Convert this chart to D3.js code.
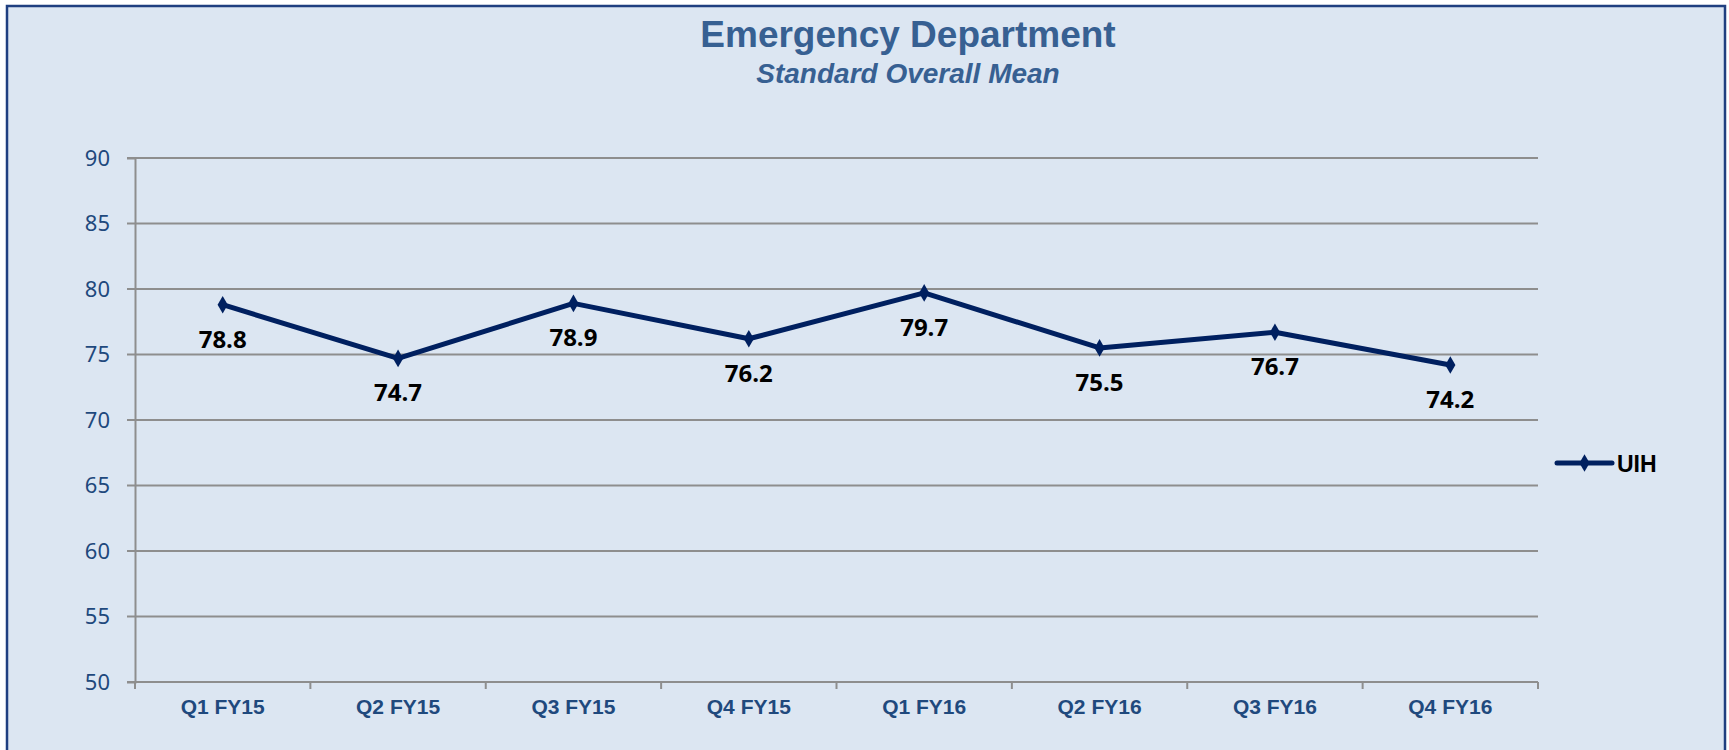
<!DOCTYPE html>
<html>
<head>
<meta charset="utf-8">
<script src="https://cdn.jsdelivr.net/npm/d3@7"></script>
<style>
  body { margin: 0; background: #ffffff; }
</style>
</head>
<body>
<div id="my_dataviz"></div>
<script>

// chart data
var quarters = ["Q1 FY15", "Q2 FY15", "Q3 FY15", "Q4 FY15", "Q1 FY16", "Q2 FY16", "Q3 FY16", "Q4 FY16"];
var uihValues = [78.8, 74.7, 78.9, 76.2, 79.7, 75.5, 76.7, 74.2];
var yTicks = [50, 55, 60, 65, 70, 75, 80, 85, 90];
var seriesName = "UIH";

// set the dimensions and margins of the graph
var W = 1729, H = 750;
var margin = {top: 158, right: 191, bottom: 68, left: 135},
  width = 1538 - margin.left,
  height = 682 - margin.top;

var svg = d3.select("#my_dataviz")
.append("svg")
  .attr("width", W)
  .attr("height", H);

// chart area background and frame
svg.append("rect")
  .attr("x", 7)
  .attr("y", 6)
  .attr("width", 1718)
  .attr("height", 800)
  .style("fill", "#dce6f2")
  .style("stroke", "#1f3f80")
  .style("stroke-width", 2.5);

var g = svg.append("g")
  .attr("transform", "translate(" + margin.left + "," + margin.top + ")");

// scales
var x = d3.scaleBand()
  .range([0, width])
  .domain(quarters);

var y = d3.scaleLinear()
  .range([height, 0])
  .domain([50, 90]);

// horizontal gridlines
g.selectAll(".grid")
  .data(yTicks)
  .enter()
  .append("line")
    .attr("x1", -8)
    .attr("x2", width)
    .attr("y1", function(d) { return y(d) })
    .attr("y2", function(d) { return y(d) })
    .style("stroke", "#8e8e8e")
    .style("stroke-width", 2);

// Y axis
var yAxis = g.append("g")
  .call(d3.axisLeft(y).tickValues(yTicks).tickSize(8).tickPadding(17));
yAxis.select(".domain")
  .style("stroke", "#8e8e8e")
  .style("stroke-width", 2);
yAxis.selectAll(".tick line").remove();
yAxis.selectAll("text")
  .style("font-family", "'Noto Sans', 'Open Sans', sans-serif")
  .style("font-size", "22px")
  .style("fill", "#1f497d");

// X axis
var xTickPos = d3.range(quarters.length + 1).map(function(i) { return i * x.bandwidth() });
g.append("line")
  .attr("x1", 0)
  .attr("x2", width)
  .attr("y1", height)
  .attr("y2", height)
  .style("stroke", "#8e8e8e")
  .style("stroke-width", 2);
g.selectAll(".xtick")
  .data(xTickPos)
  .enter()
  .append("line")
    .attr("x1", function(d) { return d })
    .attr("x2", function(d) { return d })
    .attr("y1", height)
    .attr("y2", height + 7)
    .style("stroke", "#8e8e8e")
    .style("stroke-width", 2);
g.selectAll(".xlabel")
  .data(quarters)
  .enter()
  .append("text")
    .attr("x", function(d) { return x(d) + x.bandwidth() / 2 })
    .attr("y", height + 32)
    .attr("text-anchor", "middle")
    .style("font-family", "'Liberation Sans', Arial, sans-serif")
    .style("font-weight", "bold")
    .style("font-size", "21px")
    .style("fill", "#1f497d")
    .text(function(d) { return d });

// the line
var line = d3.line()
  .x(function(d, i) { return x(quarters[i]) + x.bandwidth() / 2 })
  .y(function(d) { return y(d) });

g.append("path")
  .datum(uihValues)
  .attr("d", line)
  .style("fill", "none")
  .style("stroke", "#002060")
  .style("stroke-width", 5)
  .style("stroke-linejoin", "round");

var diamond = d3.symbol().type(d3.symbolDiamond).size(90);

g.selectAll(".pt")
  .data(uihValues)
  .enter()
  .append("path")
    .attr("d", diamond)
    .attr("transform", function(d, i) {
      return "translate(" + (x(quarters[i]) + x.bandwidth() / 2) + "," + y(d) + ")";
    })
    .style("fill", "#002060");

// data labels
g.selectAll(".lbl")
  .data(uihValues)
  .enter()
  .append("text")
    .attr("x", function(d, i) { return x(quarters[i]) + x.bandwidth() / 2 })
    .attr("y", function(d) { return y(d) + 43 })
    .attr("text-anchor", "middle")
    .style("font-family", "'Open Sans', 'Noto Sans', sans-serif")
    .style("font-weight", "bold")
    .style("font-size", "24px")
    .style("fill", "#000000")
    .text(function(d) { return d.toFixed(1) });

// legend
var legend = svg.append("g")
  .attr("transform", "translate(1557,463)");
legend.append("line")
  .attr("x1", 0)
  .attr("x2", 55)
  .style("stroke", "#002060")
  .style("stroke-width", 5)
  .style("stroke-linecap", "round");
legend.append("path")
  .attr("d", diamond)
  .attr("transform", "translate(27.5,0)")
  .style("fill", "#002060");
legend.append("text")
  .attr("x", 60)
  .attr("y", 8.5)
  .style("font-family", "'Liberation Sans', Arial, sans-serif")
  .style("font-weight", "bold")
  .style("font-size", "23px")
  .style("fill", "#000000")
  .text(seriesName);

// Add title to graph
svg.append("text")
  .attr("x", 908)
  .attr("y", 47)
  .attr("text-anchor", "middle")
  .style("font-family", "'Liberation Sans', Arial, sans-serif")
  .style("font-weight", "bold")
  .style("font-size", "37px")
  .style("fill", "#376092")
  .text("Emergency Department");

// Add subtitle to graph
svg.append("text")
  .attr("x", 908)
  .attr("y", 83)
  .attr("text-anchor", "middle")
  .style("font-family", "'Liberation Sans', Arial, sans-serif")
  .style("font-weight", "bold")
  .style("font-style", "italic")
  .style("font-size", "28px")
  .style("fill", "#376092")
  .text("Standard Overall Mean");

</script>
</body>
</html>
